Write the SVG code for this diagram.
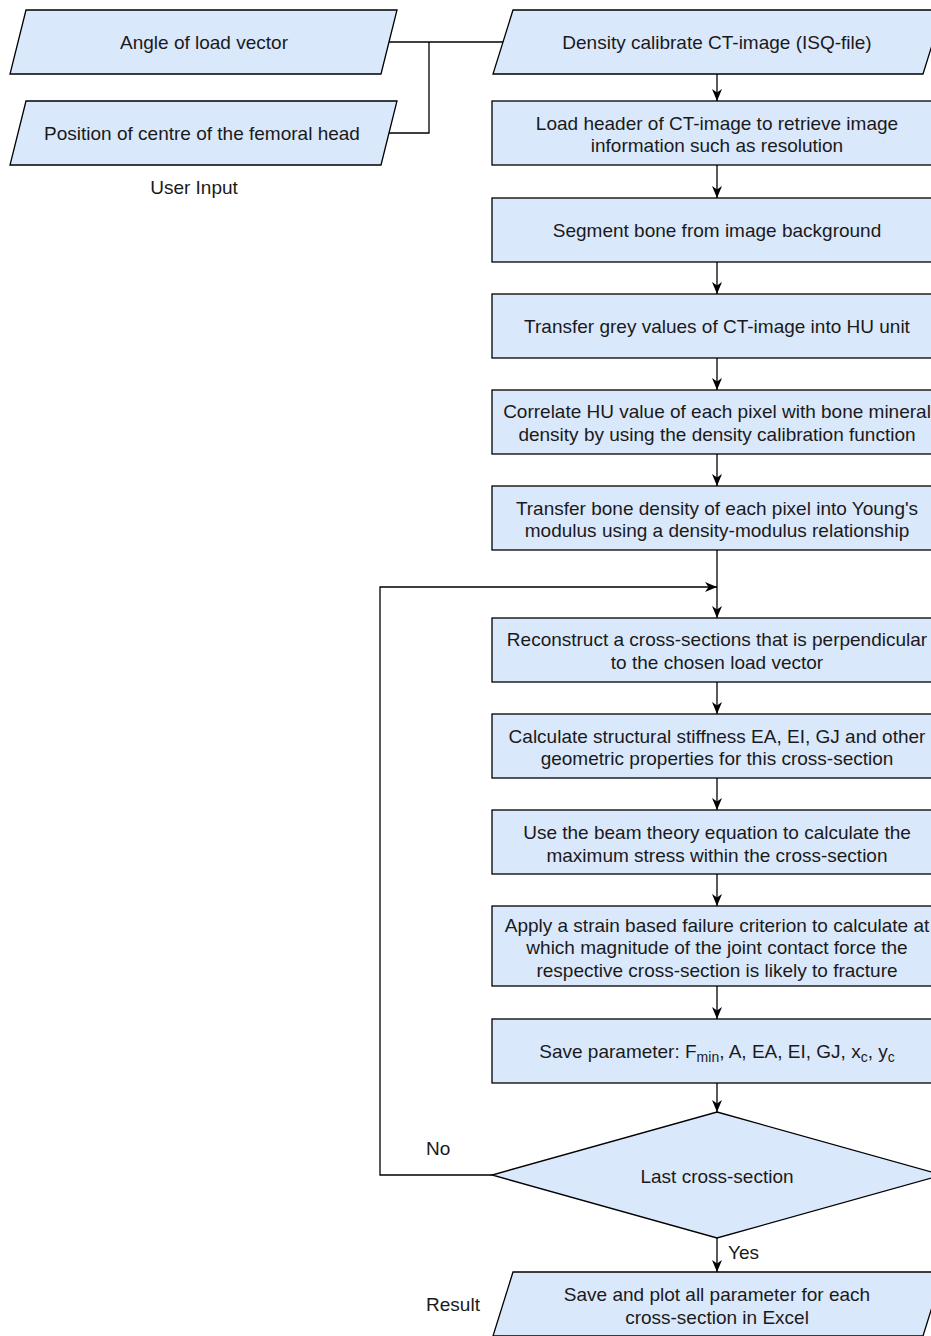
<svg xmlns="http://www.w3.org/2000/svg" width="931" height="1336" viewBox="0 0 931 1336">
<style>
.n{fill:#dae8fc;stroke:#000;stroke-width:1.3}
.t{font-family:"Liberation Sans",Arial,sans-serif;font-size:19px;fill:#1a1a1a;text-anchor:middle}
.l{font-family:"Liberation Sans",Arial,sans-serif;font-size:19px;fill:#1a1a1a}
.c{fill:none;stroke:#000;stroke-width:1.3}
.s{font-size:14px}
</style>
<defs>
<marker id="ah" markerWidth="13" markerHeight="11" refX="12" refY="5.5" orient="auto" markerUnits="userSpaceOnUse">
<path d="M0,0.5 L12,5.5 L0,10.5 L3.5,5.5 z" fill="#000"/>
</marker>
</defs>
<rect width="931" height="1336" fill="#fff"/>
<g id="connectors">
<path class="c" d="M389,42 H503"/>
<path class="c" d="M389,133 H429 V42"/>
<path class="c" d="M717,74 V101" marker-end="url(#ah)"/>
<path class="c" d="M717,165 V198" marker-end="url(#ah)"/>
<path class="c" d="M717,262 V294" marker-end="url(#ah)"/>
<path class="c" d="M717,358 V390" marker-end="url(#ah)"/>
<path class="c" d="M717,454 V486" marker-end="url(#ah)"/>
<path class="c" d="M717,550 V587"/>
<path class="c" d="M717,587 V618" marker-end="url(#ah)"/>
<path class="c" d="M492,1175 H380 V587 H717" marker-end="url(#ah)"/>
<path class="c" d="M717,682 V714" marker-end="url(#ah)"/>
<path class="c" d="M717,778 V810" marker-end="url(#ah)"/>
<path class="c" d="M717,874 V906" marker-end="url(#ah)"/>
<path class="c" d="M717,986 V1019" marker-end="url(#ah)"/>
<path class="c" d="M717,1083 V1112" marker-end="url(#ah)"/>
<path class="c" d="M717,1238 V1272" marker-end="url(#ah)"/>
<text class="l" x="426" y="1155">No</text>
<text class="l" x="728" y="1259">Yes</text>
</g>
<g id="angle">
<path class="n" d="M26,10 H397 L381,74 H10 Z"/>
<text class="t" x="204" y="49">Angle of load vector</text>
</g>
<g id="position">
<path class="n" d="M26,101 H397 L381,165 H10 Z"/>
<text class="t" x="202" y="140">Position of centre of the femoral head</text>
</g>
<g id="userinput">
<text class="t" x="194" y="194">User Input</text>
</g>
<g id="density">
<path class="n" d="M513,10 H943 L923,74 H493 Z"/>
<text class="t" x="717" y="49">Density calibrate CT-image (ISQ-file)</text>
</g>
<g id="header">
<rect class="n" x="492" y="101" width="450" height="64"/>
<text class="t" x="717" y="130">Load header of CT-image to retrieve image</text>
<text class="t" x="717" y="152">information such as resolution</text>
</g>
<g id="segment">
<rect class="n" x="492" y="198" width="450" height="64"/>
<text class="t" x="717" y="237">Segment bone from image background</text>
</g>
<g id="grey">
<rect class="n" x="492" y="294" width="450" height="64"/>
<text class="t" x="717" y="333">Transfer grey values of CT-image into HU unit</text>
</g>
<g id="correlate">
<rect class="n" x="492" y="390" width="450" height="64"/>
<text class="t" x="717" y="418">Correlate HU value of each pixel with bone mineral</text>
<text class="t" x="717" y="441">density by using the density calibration function</text>
</g>
<g id="young">
<rect class="n" x="492" y="486" width="450" height="64"/>
<text class="t" x="717" y="515">Transfer bone density of each pixel into Young's</text>
<text class="t" x="717" y="537">modulus using a density-modulus relationship</text>
</g>
<g id="reconstruct">
<rect class="n" x="492" y="618" width="450" height="64"/>
<text class="t" x="717" y="646">Reconstruct a cross-sections that is perpendicular</text>
<text class="t" x="717" y="669">to the chosen load vector</text>
</g>
<g id="stiffness">
<rect class="n" x="492" y="714" width="450" height="64"/>
<text class="t" x="717" y="743">Calculate structural stiffness EA, EI, GJ and other</text>
<text class="t" x="717" y="765">geometric properties for this cross-section</text>
</g>
<g id="beam">
<rect class="n" x="492" y="810" width="450" height="64"/>
<text class="t" x="717" y="839">Use the beam theory equation to calculate the</text>
<text class="t" x="717" y="862">maximum stress within the cross-section</text>
</g>
<g id="failure">
<rect class="n" x="492" y="906" width="450" height="80"/>
<text class="t" x="717" y="932">Apply a strain based failure criterion to calculate at</text>
<text class="t" x="717" y="954">which magnitude of the joint contact force the</text>
<text class="t" x="717" y="977">respective cross-section is likely to fracture</text>
</g>
<g id="saveparam">
<rect class="n" x="492" y="1019" width="450" height="64"/>
<text class="t" x="717" y="1058">Save parameter: F<tspan class="s" dy="4">min</tspan><tspan dy="-4">, A, EA, EI, GJ, x</tspan><tspan class="s" dy="4">c</tspan><tspan dy="-4">, y</tspan><tspan class="s" dy="4">c</tspan></text>
</g>
<g id="decision">
<path class="n" d="M717,1112 L942,1175 L717,1238 L492,1175 Z"/>
<text class="t" x="717" y="1183">Last cross-section</text>
</g>
<g id="result">
<path class="n" d="M513,1272 H943 L923,1336 H493 Z"/>
<text class="t" x="717" y="1301">Save and plot all parameter for each</text>
<text class="t" x="717" y="1324">cross-section in Excel</text>
</g>
<g id="resultlabel">
<text class="t" x="453" y="1311">Result</text>
</g>
</svg>
